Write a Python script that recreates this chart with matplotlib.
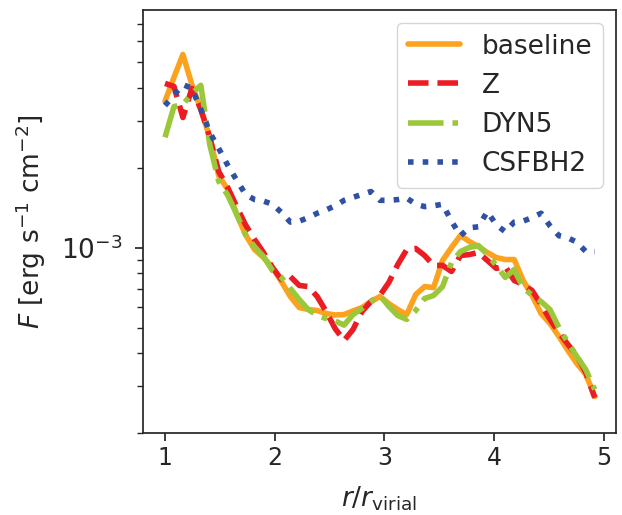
import numpy as np
import matplotlib
matplotlib.use("Agg")
import matplotlib.pyplot as plt
import seaborn as sns

# radial bins r/r_virial
r = np.linspace(1, 5, 50)[:-1]

# F in units of 1e-3 erg s^-1 cm^-2
baseline = [3.57, 4.39, 5.36, 4.13, 3.33, 2.61, 1.87, 1.66, 1.34, 1.12,
            0.985, 0.919, 0.843, 0.746, 0.655, 0.595, 0.585, 0.580, 0.565, 0.558,
            0.560, 0.578, 0.595, 0.627, 0.655, 0.616, 0.585, 0.560, 0.666, 0.714,
            0.708, 0.896, 1.003, 1.113, 1.056, 1.011, 0.960, 0.919, 0.903, 0.903,
            0.753, 0.661, 0.565, 0.518, 0.463, 0.410, 0.366, 0.333, 0.275]
Z = [4.17, 4.06, 3.10, 3.99, 3.33, 2.61, 1.94, 1.69, 1.43, 1.22,
     1.075, 0.960, 0.843, 0.759, 0.779, 0.721, 0.714, 0.655, 0.575, 0.496,
     0.447, 0.492, 0.575, 0.627, 0.661, 0.740, 0.865, 0.985, 0.994, 0.935,
     0.858, 0.858, 0.814, 0.935, 0.943, 0.960, 0.896, 0.836, 0.850, 0.753,
     0.727, 0.690, 0.611, 0.537, 0.479, 0.432, 0.392, 0.338, 0.272]
DYN5 = [2.61, 3.41, 3.47, 3.82, 4.10, 2.45, 1.78, 1.58, 1.34, 1.12,
        1.01, 0.927, 0.821, 0.773, 0.702, 0.638, 0.585, 0.555, 0.541, 0.530,
        0.511, 0.560, 0.590, 0.627, 0.661, 0.601, 0.555, 0.537, 0.580, 0.644,
        0.661, 0.714, 0.880, 0.968, 1.003, 1.020, 0.944, 0.858, 0.773, 0.828,
        0.708, 0.661, 0.627, 0.585, 0.500, 0.439, 0.389, 0.347, 0.292]
CSFBH2 = [3.44, 3.76, 4.13, 3.99, 3.33, 2.72, 2.37, 2.05, 1.80, 1.59,
          1.52, 1.50, 1.46, 1.36, 1.25, 1.26, 1.30, 1.35, 1.39, 1.44,
          1.51, 1.55, 1.59, 1.63, 1.51, 1.51, 1.52, 1.54, 1.46, 1.43,
          1.44, 1.46, 1.26, 1.11, 1.19, 1.20, 1.37, 1.22, 1.15, 1.25,
          1.26, 1.30, 1.35, 1.21, 1.11, 1.09, 1.05, 0.968, 0.968]

labels = ['baseline', 'Z', 'DYN5', 'CSFBH2']
colors = ['#FCA21E', '#EC1C24', '#9BC83A', '#2F51A3']
styles = ['-', '--', '-.', ':']

sns.set_theme(style='ticks', font_scale=1.5)

fig, ax = plt.subplots(figsize=(6.22, 5.15), dpi=100)
fig.subplots_adjust(left=0.23, right=0.99, top=0.981, bottom=0.159)

for y, lab, c, ls in zip([baseline, Z, DYN5, CSFBH2], labels, colors, styles):
    ax.plot(r, np.array(y) * 1e-3, ls, color=c, lw=4, label=lab)

ax.set_yscale('log')
ax.set_xlim(0.80, 5.11)
ax.set_ylim(2e-4, 7.9e-3)
ax.set_xticks([1, 2, 3, 4, 5])
ax.tick_params(axis='x', labelsize=17)
ax.tick_params(axis='y', which='major', labelsize=19, pad=9)
ax.set_xlabel(r'$r/r_{\rm virial}$', fontsize=19, labelpad=10)
ax.set_ylabel(r'$F$ [erg s$^{-1}$ cm$^{-2}$]', fontsize=19, labelpad=9)
ax.legend(loc='upper right', fontsize=19)

fig.savefig('out.png', dpi=100)
